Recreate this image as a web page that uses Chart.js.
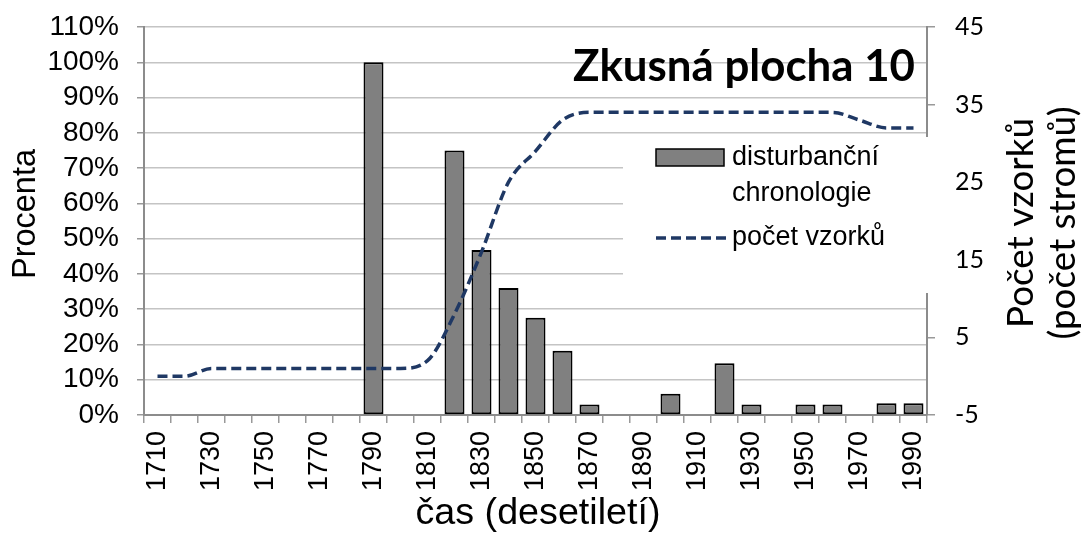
<!DOCTYPE html>
<html>
<head>
<meta charset="utf-8">
<script src="https://cdn.jsdelivr.net/npm/chart.js@4.4.1/dist/chart.umd.min.js"></script>
<style>
html,body{margin:0;padding:0;background:#fff;}
#wrap{width:1085px;height:537px;}
</style>
</head>
<body>
<div id="wrap"><canvas id="c" width="1085" height="537"></canvas></div>
<script>
// ---- data ----
const decades = [1710,1720,1730,1740,1750,1760,1770,1780,1790,1800,1810,1820,1830,1840,1850,1860,1870,1880,1890,1900,1910,1920,1930,1940,1950,1960,1970,1980,1990];
const disturbance = [null,null,null,null,null,null,null,null,1.00,null,null,0.75,0.468,0.36,0.276,0.182,0.03,null,null,0.06,null,0.147,0.03,null,0.03,0.03,null,0.033,0.033];
const sampleCount = [0,0,1,1,1,1,1,1,1,1,2,8,16,25,29,33,34,34,34,34,34,34,34,34,34,34,33,32,32];
const leftTicks = [0,0.1,0.2,0.3,0.4,0.5,0.6,0.7,0.8,0.9,1.0,1.1];
const rightTicks = [-5,5,15,25,35,45];

const titleText = 'Zkusná plocha 10';
const barLabel = ['disturbanční','chronologie'];
const lineLabel = 'počet vzorků';
const xTitle = 'čas (desetiletí)';
const yTitle = 'Procenta';
const y1Title = ['Počet vzorků','(počet stromů)'];

const ARIAL = '"Liberation Sans", Arial, sans-serif';
const CALI = 'Lato, "Open Sans", sans-serif';
const LINE_COLOR = '#1f3864';
const BAR_COLOR = '#808080';

function fitFont(ctx, text, weight, family, targetW){
  ctx.font = weight + ' 100px ' + family;
  const w = ctx.measureText(text).width;
  return 100 * targetW / w;
}
function noPad(s){ s.paddingTop = 0; s.paddingBottom = 0; s.paddingLeft = 0; s.paddingRight = 0; }

const overlay = {
  id: 'overlay',
  afterDraw(chart){
    const ctx = chart.ctx;
    ctx.save();
    // legend box (white, covers grid + right axis)
    ctx.fillStyle = '#fff';
    ctx.fillRect(623, 137, 314, 156);
    // bar swatch
    ctx.fillStyle = BAR_COLOR;
    ctx.fillRect(656, 149, 68, 17);
    ctx.strokeStyle = '#000';
    ctx.lineWidth = 1.5;
    ctx.strokeRect(656, 149, 68, 17);
    // dashed line swatch
    ctx.strokeStyle = LINE_COLOR;
    ctx.lineWidth = 3.5;
    ctx.setLineDash([10,5]);
    ctx.beginPath(); ctx.moveTo(656, 238); ctx.lineTo(728, 238); ctx.stroke();
    ctx.setLineDash([]);
    // legend text
    ctx.fillStyle = '#000';
    ctx.textAlign = 'left';
    ctx.textBaseline = 'middle';
    ctx.font = '27px ' + ARIAL;
    ctx.fillText(barLabel[0], 732, 158);
    ctx.fillText(barLabel[1], 732, 194);
    ctx.fillText(lineLabel, 732, 238);

    // title
    const ts = fitFont(ctx, titleText, 'bold', CALI, 342);
    ctx.font = 'bold ' + ts.toFixed(2) + 'px ' + CALI;
    ctx.textAlign = 'right';
    ctx.textBaseline = 'alphabetic';
    ctx.fillText(titleText, 915, 81);

    // left axis title
    const ls = fitFont(ctx, yTitle, '', ARIAL, 130);
    ctx.font = ls.toFixed(2) + 'px ' + ARIAL;
    ctx.save();
    ctx.translate(26, 214);
    ctx.rotate(-Math.PI/2);
    ctx.textAlign = 'center';
    ctx.textBaseline = 'middle';
    ctx.fillText(yTitle, 0, 0);
    ctx.restore();

    // right axis title (reads bottom-to-top)
    const rs = fitFont(ctx, y1Title[0], '', CALI, 210);
    ctx.font = rs.toFixed(2) + 'px ' + CALI;
    ctx.save();
    ctx.translate(1021, 223);
    ctx.rotate(-Math.PI/2);
    ctx.textAlign = 'center';
    ctx.textBaseline = 'middle';
    ctx.fillText(y1Title[0], 0, 0);
    ctx.fillText(y1Title[1], 0, 42);
    ctx.restore();

    // x title
    const xs = fitFont(ctx, xTitle, '', ARIAL, 245);
    ctx.font = xs.toFixed(2) + 'px ' + ARIAL;
    ctx.textAlign = 'center';
    ctx.textBaseline = 'alphabetic';
    ctx.fillText(xTitle, 538, 524);
    ctx.restore();
  }
};

new Chart(document.getElementById('c'), {
  data: {
    labels: decades.map(String),
    datasets: [
      {
        type: 'line',
        label: lineLabel,
        data: sampleCount,
        yAxisID: 'y1',
        borderColor: LINE_COLOR,
        borderWidth: 3.5,
        borderDash: [10,5],
        pointRadius: 0,
        fill: false,
        cubicInterpolationMode: 'monotone',
        order: 0
      },
      {
        type: 'bar',
        label: barLabel.join(' '),
        data: disturbance,
        yAxisID: 'y',
        backgroundColor: BAR_COLOR,
        borderColor: '#000',
        borderWidth: 2,
        borderSkipped: false,
        barPercentage: 0.74,
        categoryPercentage: 1.0,
        order: 1
      }
    ]
  },
  options: {
    responsive: false,
    animation: false,
    layout: { padding: { top: 27, left: 0, right: 0, bottom: 0 } },
    plugins: { legend: { display: false }, tooltip: { enabled: false }, title: { display: false } },
    scales: {
      x: {
        type: 'category',
        offset: true,
        afterFit(s){ s.height = 122; noPad(s); },
        grid: { offset: true, drawOnChartArea: false, tickLength: 8, color: '#999', lineWidth: 1.5 },
        border: { color: '#8c8c8c', width: 2 },
        ticks: {
          autoSkip: false, maxRotation: 90, minRotation: 90, padding: 8,
          color: '#000', font: { family: ARIAL, size: 27 },
          callback(v, i){ return i % 2 === 0 ? String(decades[i]) : ''; }
        }
      },
      y: {
        position: 'left',
        min: 0, max: 1.1,
        afterFit(s){ s.width = 144; noPad(s); },
        afterBuildTicks(s){ s.ticks = leftTicks.map(v => ({value: v})); },
        grid: { color: '#c4c4c4', tickColor: '#999', lineWidth: 1.5, tickLength: 7 },
        border: { color: '#8c8c8c', width: 2 },
        ticks: {
          autoSkip: false, padding: 18, color: '#000', font: { family: ARIAL, size: 28 },
          callback(v){ return Math.round(v*100) + '%'; }
        }
      },
      y1: {
        position: 'right',
        min: -5, max: 45,
        afterFit(s){ s.width = 158; noPad(s); },
        afterBuildTicks(s){ s.ticks = rightTicks.map(v => ({value: v})); },
        grid: { drawOnChartArea: false, color: '#999', lineWidth: 1.5, tickLength: 8 },
        border: { color: '#8c8c8c', width: 2 },
        ticks: {
          autoSkip: false, padding: 20, color: '#000', font: { family: CALI, size: 25 },
          callback(v){ return String(v); }
        }
      }
    }
  },
  plugins: [overlay]
});
</script>
</body>
</html>
